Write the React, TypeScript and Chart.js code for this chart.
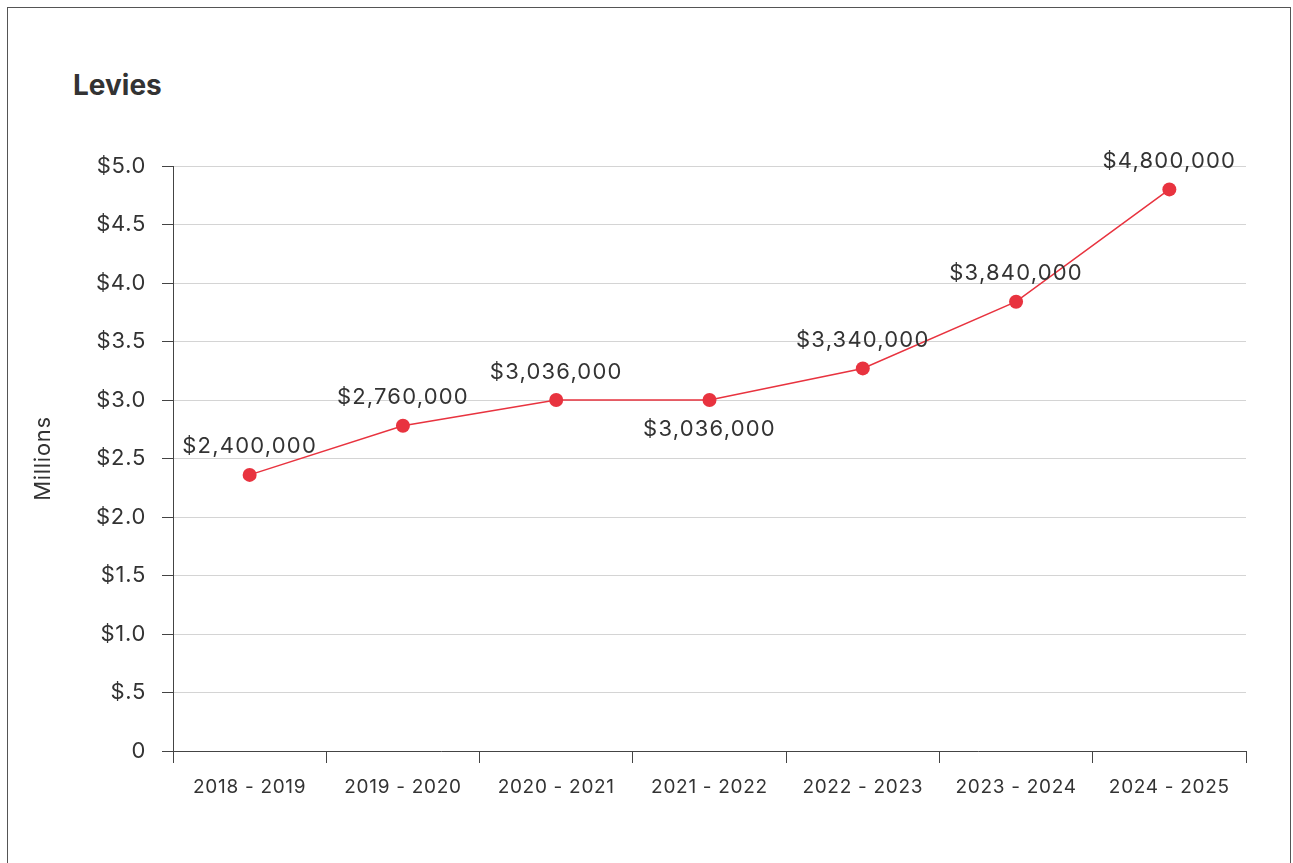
import React, { useEffect, useRef } from "react";
import { Chart, registerables } from "chart.js";

Chart.register(...registerables);

const categories = [
  "2018 - 2019",
  "2019 - 2020",
  "2020 - 2021",
  "2021 - 2022",
  "2022 - 2023",
  "2023 - 2024",
  "2024 - 2025",
];
// values in millions, as plotted
const levies = [2.36, 2.78, 3.0, 3.0, 3.27, 3.84, 4.8];
const valueLabels = [
  "$2,400,000",
  "$2,760,000",
  "$3,036,000",
  "$3,036,000",
  "$3,340,000",
  "$3,840,000",
  "$4,800,000",
];
const labelBelow = [false, false, false, true, false, false, false];
const yMin = 0;
const yMax = 5;
const yStep = 0.5;

const FONT = "Inter, 'Noto Sans', sans-serif";
const TEXT = "#333333";
const RED = "#e8333f";

const spacingPlugin = {
  id: "spacing",
  beforeUpdate(chart: any) {
    (chart.ctx as any).letterSpacing = "0.7px";
  },
  beforeDraw(chart: any) {
    (chart.ctx as any).letterSpacing = "0.7px";
  },
};

const valueLabelPlugin = {
  id: "valueLabels",
  afterDatasetsDraw(chart: any) {
    const meta = chart.getDatasetMeta(0);
    const ctx = chart.ctx;
    ctx.save();
    (ctx as any).letterSpacing = "1.2px";
    ctx.font = `22px ${FONT}`;
    ctx.fillStyle = TEXT;
    ctx.textAlign = "center";
    ctx.textBaseline = "middle";
    meta.data.forEach((pt: any, i: number) => {
      const dy = labelBelow[i] ? 29 : -28;
      ctx.fillText(valueLabels[i], pt.x, pt.y + dy);
    });
    ctx.restore();
  },
};

export default function App() {
  const ref = useRef<HTMLCanvasElement>(null);

  useEffect(() => {
    if (!ref.current) return;
    const chart = new Chart(ref.current, {
      type: "line",
      data: {
        labels: categories,
        datasets: [
          {
            data: levies,
            borderColor: RED,
            backgroundColor: RED,
            borderWidth: 1.5,
            pointRadius: 7,
            pointBackgroundColor: RED,
            pointBorderWidth: 0,
            tension: 0,
          },
        ],
      },
      options: {
        responsive: false,
        animation: false,
        devicePixelRatio: 1,
        layout: { padding: { top: 166, right: 47, bottom: 0, left: 0 } },
        plugins: {
          legend: { display: false },
          tooltip: { enabled: false },
          title: { display: false },
        },
        scales: {
          x: {
            type: "category",
            offset: true,
            grid: {
              offset: true,
              drawOnChartArea: false,
              drawTicks: true,
              tickLength: 12,
              tickColor: "#444444",
              tickWidth: 1,
            },
            border: { display: true, color: "#444444", width: 1 },
            ticks: {
              color: TEXT,
              font: { family: FONT, size: 19 },
              padding: 13,
              maxRotation: 0,
              autoSkip: false,
            },
            afterFit(scale: any) {
              scale.height = 112;
            },
          },
          y: {
            min: yMin,
            max: yMax,
            grid: {
              color: "#d4d4d4",
              lineWidth: 1,
              drawTicks: true,
              tickLength: 11,
              tickColor: "#444444",
            },
            border: { display: true, color: "#444444", width: 1 },
            ticks: {
              stepSize: yStep,
              color: TEXT,
              font: { family: FONT, size: 22 },
              padding: 16,
              callback: (v: any) => {
                const n = Number(v);
                if (n === 0) return "0";
                return "$" + n.toFixed(1).replace(/^0/, "");
              },
            },
            title: {
              display: true,
              text: "Millions",
              color: TEXT,
              font: { family: FONT, size: 22 },
              padding: { top: 30, bottom: 0 },
            },
            afterFit(scale: any) {
              scale.width = 173;
            },
          },
        },
      },
      plugins: [spacingPlugin, valueLabelPlugin],
    });
    return () => chart.destroy();
  }, []);

  return (
    <div
      style={{
        position: "fixed",
        left: 0,
        top: 0,
        width: 1293,
        height: 863,
        overflow: "hidden",
        background: "#ffffff",
      }}
    >
      <div
        style={{
          position: "absolute",
          left: 7,
          top: 7,
          width: 1284,
          height: 900,
          border: "1px solid #555555",
          boxSizing: "border-box",
        }}
      />
      <div
        style={{
          position: "absolute",
          left: 73,
          top: 68,
          lineHeight: "34px",
          fontFamily: FONT,
          fontWeight: 700,
          fontSize: 28,
          color: TEXT,
        }}
      >
        Levies
      </div>
      <canvas
        ref={ref}
        width={1293}
        height={863}
        style={{ position: "absolute", left: 0, top: 0, width: 1293, height: 863 }}
      />
    </div>
  );
}
